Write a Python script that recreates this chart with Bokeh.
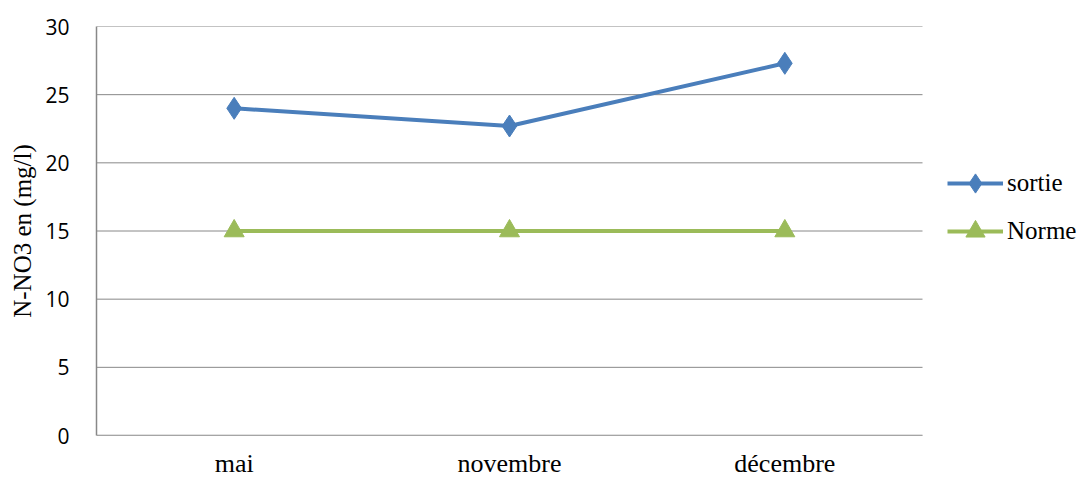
from bokeh.plotting import figure
from bokeh.models import Range1d, Legend, LegendItem, FixedTicker
from bokeh.embed import file_html
from bokeh.resources import INLINE

months = ["mai", "novembre", "décembre"]
sortie = [24.0, 22.7, 27.3]
norme = [15, 15, 15]
y_ticks = [0, 5, 10, 15, 20, 25, 30]

BLUE = "#4A7EBB"
GREEN = "#9BBB59"
GRID = "#888888"

# category positions (centres of equal-width category bands)
xs = [i + 0.5 for i in range(len(months))]
n_cat = len(months)
# plot area spans 3 category bands; extra room on the right holds the legend
x_end = n_cat * 985 / 826

p = figure(width=1081, height=480, x_range=Range1d(0, x_end),
           y_range=Range1d(0, 30), output_backend="svg", toolbar_location=None,
           min_border_left=96, min_border_right=0, min_border_top=26, min_border_bottom=43)
p.outline_line_color = None
p.background_fill_color = "white"
p.border_fill_color = "white"
p.xgrid.grid_line_color = None
p.ygrid.grid_line_color = None

# horizontal gridlines across the category area only
p.segment(x0=[0] * len(y_ticks), x1=[n_cat] * len(y_ticks), y0=y_ticks, y1=y_ticks,
          line_color=GRID, line_width=1)
# bottom axis line
p.segment(x0=[0], x1=[n_cat], y0=[0], y1=[0], line_color=GRID, line_width=1.5)

p.yaxis.ticker = FixedTicker(ticks=y_ticks)
p.xaxis.ticker = FixedTicker(ticks=xs)
p.xaxis.major_label_overrides = {x: m for x, m in zip(xs, months)}

for ax in (p.xaxis[0], p.yaxis[0]):
    ax.major_tick_line_color = None
    ax.minor_tick_line_color = None
    ax.major_tick_out = 0
    ax.major_tick_in = 0
    ax.minor_tick_out = 0
    ax.minor_tick_in = 0
p.yaxis.axis_line_color = GRID
p.yaxis.axis_line_width = 1.5
p.xaxis.axis_line_color = None

p.yaxis.major_label_text_font = "Open Sans"
p.yaxis.major_label_text_font_size = "21px"
p.yaxis.major_label_text_color = "#000000"
p.yaxis.major_label_standoff = 27
p.yaxis.axis_label = "N-NO3 en (mg/l)"
p.yaxis.axis_label_text_font = "Liberation Serif"
p.yaxis.axis_label_text_font_style = "normal"
p.yaxis.axis_label_text_font_size = "25px"
p.yaxis.axis_label_text_color = "#000000"
p.yaxis.axis_label_standoff = 6

p.xaxis.major_label_text_font = "Liberation Serif"
p.xaxis.major_label_text_font_size = "26px"
p.xaxis.major_label_text_color = "#000000"
p.xaxis.major_label_standoff = 13

l1 = p.line(xs, sortie, line_color=BLUE, line_width=4)
s1 = p.scatter(xs, sortie, marker="diamond", size=22, fill_color=BLUE, line_color=BLUE)
l2 = p.line(xs, norme, line_color=GREEN, line_width=4)
s2 = p.scatter(xs, norme, marker="triangle", size=20, fill_color=GREEN, line_color=GREEN)

legend = Legend(items=[LegendItem(label="sortie", renderers=[l1, s1]),
                       LegendItem(label="Norme", renderers=[l2, s2])],
                location=(851, 180), orientation="vertical",
                glyph_width=56, glyph_height=48, label_height=48, spacing=0,
                padding=0, margin=0, label_standoff=4,
                border_line_color=None, background_fill_alpha=0,
                label_text_font="Liberation Serif", label_text_font_size="25px",
                label_text_color="#000000")
p.add_layout(legend)

open("out.html", "w").write(file_html(p, INLINE))
